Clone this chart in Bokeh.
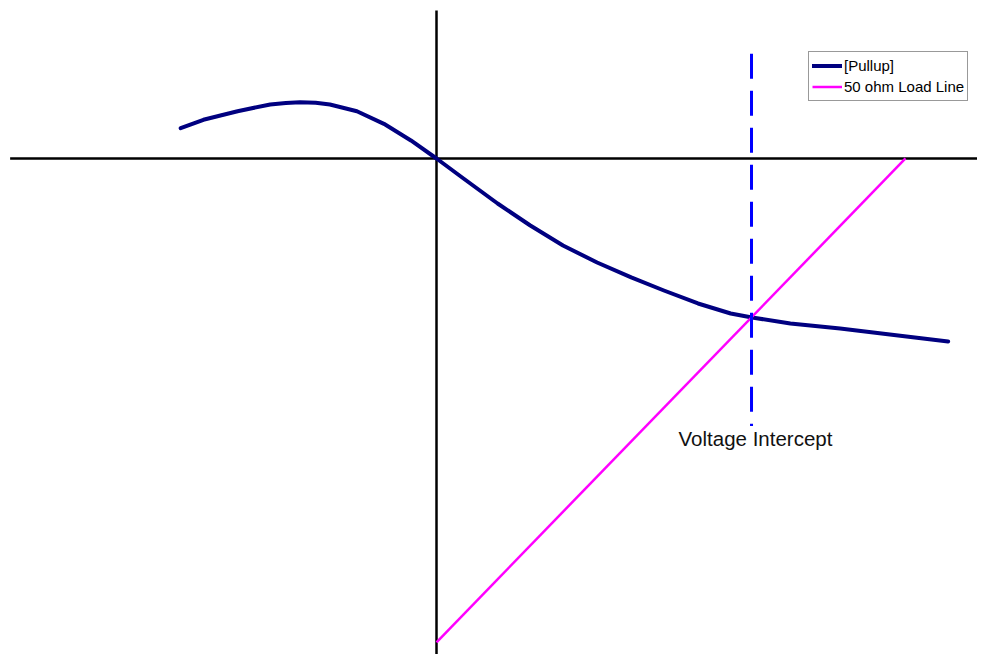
from bokeh.plotting import figure
from bokeh.models import Legend, LegendItem, Range1d, Label
from bokeh.embed import file_html
from bokeh.resources import INLINE

# Pullup V-I curve (volts, milliamps)
pullup_v = [-1.80, -1.64, -1.40, -1.17, -1.06, -0.96, -0.85, -0.75, -0.56, -0.37, -0.18, 0.00,
            0.19, 0.43, 0.66, 0.89, 1.13, 1.37, 1.60, 1.84, 2.07, 2.22,
            2.49, 2.84, 3.19, 3.60]
pullup_ma = [4.13, 5.28, 6.45, 7.37, 7.56, 7.68, 7.59, 7.37, 6.45, 4.73, 2.46, 0.00,
             -2.73, -6.14, -9.14, -11.87, -14.19, -16.23, -18.01, -19.78, -21.15, -21.69,
             -22.51, -23.19, -24.01, -24.97]

# 50 ohm load line end points
load_v = [0.0, 3.3]
load_ma = [-66.0, 0.0]

# Voltage intercept marker
intercept_v = [2.2165, 2.2165]
intercept_ma = [14.3, -36.5]
intercept_label = "Voltage Intercept"
intercept_label_ma = -38.2

# Extents of the drawn zero axes
axis_v_extent = [-3.0, 4.0]
axis_ma_extent = [20.2, -70.0]

labels = ["[Pullup]", "50 ohm Load Line"]

p = figure(width=977, height=654,
           x_range=Range1d(-3.0678, 3.8066), y_range=Range1d(-67.67, 21.555),
           output_backend="svg", toolbar_location=None,
           x_axis_location=None, y_axis_location=None, min_border=0)
p.grid.visible = False
p.outline_line_color = None
p.background_fill_color = "white"
p.border_fill_color = "white"

p.line(axis_v_extent, [0, 0], line_color="black", line_width=2.5)
p.line([0, 0], axis_ma_extent, line_color="black", line_width=2.5)

r_pull = p.line(pullup_v, pullup_ma, line_color="#000080", line_width=4, line_cap="round", line_join="round")
r_load = p.line(load_v, load_ma, line_color="#FF00FF", line_width=2.5)
p.line(intercept_v, intercept_ma, line_color="#0000FF", line_width=3, line_dash="25 12")

p.add_layout(Label(x=intercept_v[0], y=intercept_label_ma, x_offset=4, text=intercept_label,
                   text_align="center", text_baseline="middle",
                   text_font="Liberation Sans", text_font_size="20.5px", text_color="#111111"))

legend = Legend(items=[LegendItem(label=labels[0], renderers=[r_pull]),
                       LegendItem(label=labels[1], renderers=[r_load])],
                location=(808, 553),
                label_text_font="Liberation Sans", label_text_font_size="15px",
                label_text_color="black", label_standoff=2,
                glyph_width=30, glyph_height=21, label_height=21,
                padding=3, spacing=0, margin=0,
                border_line_color="#333333", border_line_width=1,
                background_fill_color="white", background_fill_alpha=1.0)
p.add_layout(legend)

open("out.html", "w").write(file_html(p, INLINE))
